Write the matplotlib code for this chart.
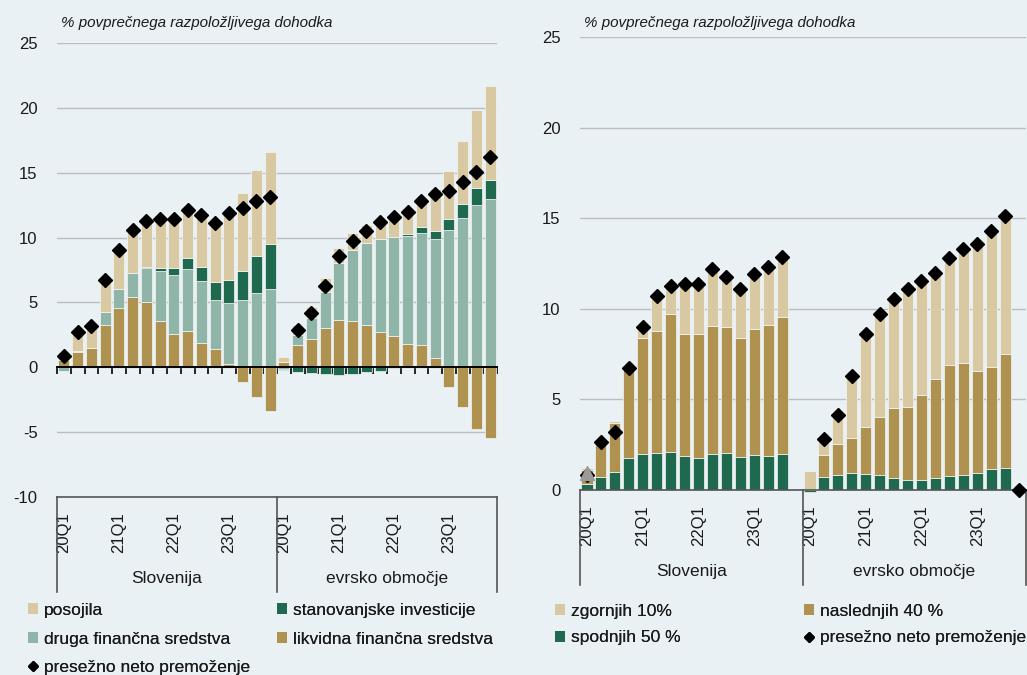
import numpy as np
import matplotlib
matplotlib.use("Agg")
import matplotlib.pyplot as plt
import matplotlib.transforms as mtransforms
from matplotlib.patches import Patch
from matplotlib.lines import Line2D

plt.rcParams['font.family'] = ['Liberation Sans', 'DejaVu Sans']
plt.rcParams['font.size'] = 12

# quarters, 20Q1..23Q4, for each region
quarters = [f"{y}Q{q}" for y in range(20, 24) for q in range(1, 5)]
regions = ["Slovenija", "evrsko območje"]
subtitle = "% povprečnega razpoložljivega dohodka"

# left panel: by asset type (Slovenia, then euro area)
sl_likvidna = [0.6, 1.15, 1.45, 3.25, 4.55, 5.4, 5.0, 3.55, 2.55, 2.8, 1.85, 1.4, 0.25, -1.15, -2.3, -3.4]
sl_druga = [-0.25, 0.1, 0.0, 1.0, 1.45, 1.9, 2.65, 3.85, 4.6, 4.8, 4.8, 3.75, 4.7, 5.2, 5.75, 6.0]
sl_stan = [0, 0, 0, 0, 0, 0, 0.05, 0.23, 0.48, 0.8, 1.08, 1.39, 1.8, 2.26, 2.83, 3.47]
sl_posojila = [0.55, 1.6, 1.75, 2.55, 3.1, 3.35, 3.7, 3.87, 3.87, 3.92, 4.19, 4.72, 5.29, 6.0, 6.6, 7.1]
sl_presezno = [0.9, 2.7, 3.2, 6.7, 9.05, 10.6, 11.26, 11.4, 11.4, 12.16, 11.75, 11.1, 11.93, 12.3, 12.85, 13.1]

ea_likvidna = [0.41, 1.75, 2.19, 3.03, 3.65, 3.6, 3.29, 2.7, 2.42, 1.77, 1.72, 0.72, -1.54, -3.08, -4.76, -5.48]
ea_druga = [-0.13, 0.74, 1.59, 2.75, 4.37, 5.45, 6.27, 7.2, 7.61, 8.38, 8.64, 9.18, 10.59, 11.49, 12.52, 12.98]
ea_stan = [-0.05, -0.39, -0.46, -0.55, -0.57, -0.55, -0.39, -0.3, -0.05, 0.13, 0.44, 0.64, 0.88, 1.11, 1.28, 1.49]
ea_posojila = [0.41, 0.77, 0.9, 1.11, 1.18, 1.31, 1.42, 1.54, 1.72, 2.0, 2.3, 3.2, 3.7, 4.83, 6.07, 7.25]
ea_presezno = [np.nan, 2.88, 4.16, 6.3, 8.6, 9.77, 10.54, 11.18, 11.57, 12.0, 12.85, 13.37, 13.57, 14.27, 15.09, 16.2]

# right panel: by wealth distribution
sl_spodnjih = [0.33, 0.7, 0.98, 1.75, 1.99, 2.06, 2.08, 1.9, 1.79, 1.99, 2.02, 1.84, 1.95, 1.88, 1.99, np.nan]
sl_naslednjih = [0.77, 1.97, 2.7, 4.97, 6.39, 6.72, 7.64, 6.72, 6.81, 7.07, 6.98, 6.57, 6.92, 7.23, 7.58, np.nan]
sl_zgornjih = [0.1, 0.0, 0.13, 0.0, 0.57, 1.82, 1.63, 2.83, 2.85, 3.19, 2.8, 2.74, 3.13, 3.24, 3.33, np.nan]
sl_presezno_r = [0.85, 2.67, 3.18, 6.72, 9.02, 10.68, 11.27, 11.38, 11.38, 12.19, 11.73, 11.08, 11.93, 12.28, 12.85, np.nan]
sl_trikotnik = [0.92] + [np.nan] * 15

ea_spodnjih = [-0.13, 0.74, 0.83, 0.92, 0.9, 0.83, 0.68, 0.55, 0.55, 0.68, 0.77, 0.83, 0.92, 1.16, 1.23, np.nan]
ea_naslednjih = [0.0, 1.17, 1.71, 1.97, 2.6, 3.22, 3.83, 4.05, 4.7, 5.45, 6.13, 6.17, 5.67, 5.65, 6.28, np.nan]
ea_zgornjih = [1.05, 0.94, 1.61, 3.46, 5.15, 5.71, 6.04, 6.55, 6.3, 5.87, 5.9, 6.3, 6.98, 7.54, 7.59, np.nan]
ea_presezno_r = [np.nan, 2.8, 4.12, 6.3, 8.62, 9.72, 10.53, 11.12, 11.54, 12.0, 12.8, 13.29, 13.57, 14.3, 15.1, 0.0]

BG = '#E9F1F5'
TAN = '#D8C9A3'
SAGE = '#8EB5A7'
DGREEN = '#1F6A4F'
GOLD = '#AF9150'
GRID = '#BDBDBD'
TXT = '#1a1a1a'

x = np.arange(len(quarters) * 2)


def stacked(ax, series, colors, clip=True):
    pos = np.zeros(len(x))
    neg = np.zeros(len(x))
    for vals, c in zip(series, colors):
        v = np.nan_to_num(np.array(vals, dtype=float))
        bottom = np.where(v >= 0, pos, neg)
        m = v != 0
        ax.bar(x[m], v[m], 0.8, bottom=bottom[m], color=c,
               edgecolor='#f4f7f8', linewidth=0.5, zorder=2, clip_on=clip)
        pos += np.clip(v, 0, None)
        neg += np.clip(v, None, 0)


def decorate(ax, ymin, ymax, yticks):
    ax.set_facecolor(BG)
    ax.set_xlim(-0.5, len(x) - 0.5)
    ax.set_ylim(ymin, ymax)
    ax.set_yticks(yticks)
    ax.tick_params(axis='y', length=0, pad=14, colors=TXT, labelsize=12)
    ax.yaxis.grid(True, color=GRID, linewidth=1)
    ax.set_axisbelow(True)
    for s in ['left', 'right']:
        ax.spines[s].set_visible(False)
    ax.spines['bottom'].set_color('#555555')
    ax.spines['bottom'].set_linewidth(1.2)
    # quarter labels (only Q1) as minor ticks at the bottom
    lab_pos = [i for i, q in enumerate(quarters * 2) if q.endswith('Q1')]
    ax.set_xticks(lab_pos, minor=True)
    ax.set_xticklabels([(quarters * 2)[i] for i in lab_pos], minor=True)
    ax.tick_params(axis='x', which='minor', bottom=True, top=False, length=0,
                   pad=11, labelsize=12, labelcolor=TXT, labelrotation=90)
    # region separators and names below the axis
    tr = mtransforms.blended_transform_factory(ax.transData, ax.transAxes)
    for b in [-0.5, len(quarters) - 0.5, len(x) - 0.5]:
        ax.plot([b, b], [0, -0.21], transform=tr, color='#555555', lw=1.2, clip_on=False)
    for i, name in enumerate(regions):
        ax.text(len(quarters) * i + len(quarters) / 2 - 0.5, -0.18, name, transform=tr,
                ha='center', va='center', fontsize=12.5, color=TXT)


fig = plt.figure(figsize=(10.27, 6.75), dpi=100)
fig.patch.set_facecolor(BG)

# ---------- left panel ----------
ax1 = fig.add_axes([57 / 1027, 1 - 497 / 675, 440 / 1027, 454 / 675])
stacked(ax1, [sl_likvidna + ea_likvidna, sl_druga + ea_druga,
              sl_stan + ea_stan, sl_posojila + ea_posojila],
        [GOLD, SAGE, DGREEN, TAN])
ax1.plot(x, sl_presezno + ea_presezno, 'D', color='black', ms=6.8, zorder=4)
decorate(ax1, -10, 25, np.arange(-10, 26, 5))
ax1.set_yticklabels([str(v) for v in np.arange(-10, 26, 5)])
# zero line with category ticks
ax1.spines['top'].set_position(('data', 0))
ax1.spines['top'].set_color('black')
ax1.spines['top'].set_linewidth(1.4)
ax1.spines['top'].set_zorder(3)
ax1.set_xticks(np.arange(-0.5, len(x), 1))
ax1.tick_params(axis='x', which='major', top=True, bottom=False, direction='in',
                length=5, width=1.2, color='black', labeltop=False, labelbottom=False)

# ---------- right panel ----------
ax2 = fig.add_axes([580 / 1027, 1 - 490 / 675, 446 / 1027, 453 / 675])
stacked(ax2, [sl_spodnjih + ea_spodnjih, sl_naslednjih + ea_naslednjih,
              sl_zgornjih + ea_zgornjih],
        [DGREEN, GOLD, TAN], clip=False)
ax2.plot(x, sl_presezno_r + ea_presezno_r, 'D', color='black', ms=6.8, zorder=4,
         clip_on=False)
ax2.plot(x, sl_trikotnik + [np.nan] * 16, '^', color='#9a9a9a', ms=10, zorder=5)
decorate(ax2, 0, 25, np.arange(0, 26, 5))
ax2.spines['top'].set_visible(False)
ax2.set_xticks([])

# subtitles
fig.text(61 / 1027, 1 - 23 / 675, subtitle, style='italic', fontsize=10.9,
         color=TXT, va='center')
fig.text(584 / 1027, 1 - 23 / 675, subtitle, style='italic', fontsize=10.9,
         color=TXT, va='center')

# legends
def sq(c):
    return Patch(facecolor=c, edgecolor='none')

diamond = Line2D([], [], marker='D', color='black', ls='none', ms=5)
leg_kw = dict(loc='upper left', frameon=False, borderpad=0, borderaxespad=0,
              handlelength=0.6, handleheight=0.6, handletextpad=0.3,
              fontsize=12.5, labelcolor=TXT)

legs = [
    ([sq(TAN), sq(SAGE), diamond],
     ['posojila', 'druga finančna sredstva', 'presežno neto premoženje'], 28, 0.78, 603),
    ([sq(DGREEN), sq(GOLD)],
     ['stanovanjske investicije', 'likvidna finančna sredstva'], 277, 0.78, 603),
    ([sq(TAN), sq(DGREEN)], ['zgornjih 10%', 'spodnjih 50 %'], 555, 0.66, 604),
    ([sq(GOLD), diamond], ['naslednjih 40 %', 'presežno neto premoženje'], 804, 0.66, 604),
]
for h, l, px, ls, py in legs:
    lg = fig.legend(h, l, bbox_to_anchor=(px / 1027, 1 - py / 675),
                    labelspacing=ls, **leg_kw)
    fig.add_artist(lg)

fig.savefig('out.png', dpi=100, facecolor=BG)
